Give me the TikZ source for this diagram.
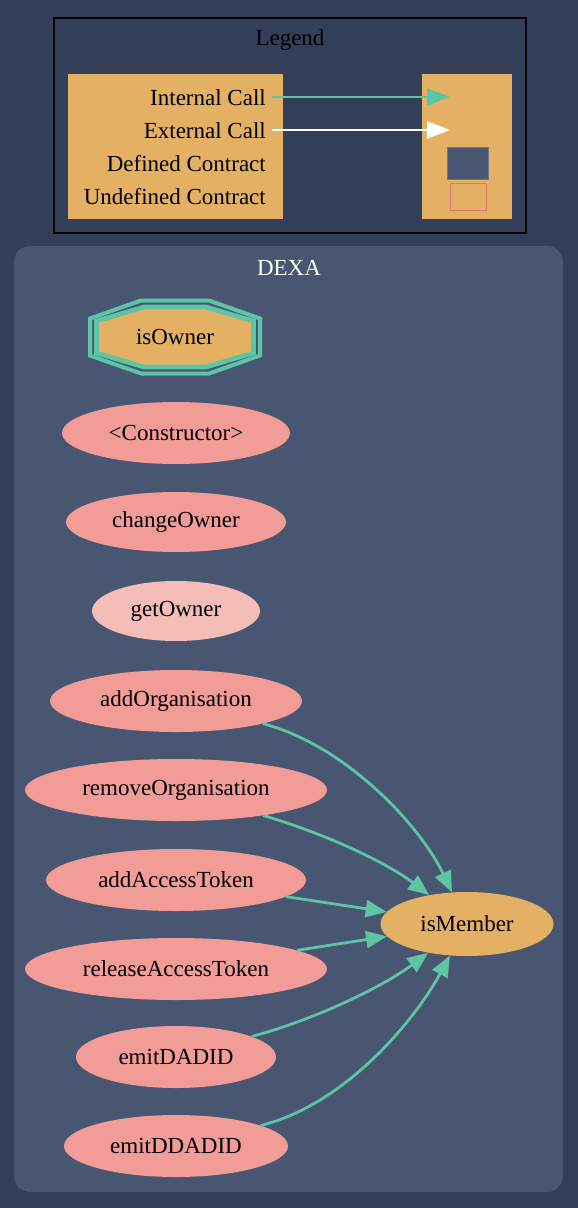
\documentclass[tikz,border=0pt]{standalone}
\usepackage{fontspec}
\setmainfont{Liberation Serif}
\usetikzlibrary{arrows.meta,shapes.geometric}
\definecolor{outerbg}{HTML}{333F58}
\definecolor{clusterbg}{HTML}{485672}
\definecolor{orng}{HTML}{E3B064}
\definecolor{pnk}{HTML}{F29C98}
\definecolor{lpnk}{HTML}{F5BDB8}
\definecolor{teal}{HTML}{5DC4A6}
\definecolor{redline}{HTML}{E07472}
\tikzset{
  fn/.style={ellipse, fill=pnk, inner sep=0pt, font=\fontsize{23}{27}\selectfont},
  edge/.style={draw=teal, line width=2.8pt, -{Triangle[length=21pt,width=17pt]}},
  lbl/.style={font=\fontsize{23}{27}\selectfont, inner sep=0pt}
}
\begin{document}
\begin{tikzpicture}[x=1pt,y=-1pt]
\fill[outerbg] (0,0) rectangle (578,1208);
\useasboundingbox (0,0) rectangle (578,1208);
% Legend
\draw[black, line width=1.5pt, fill=outerbg] (54,18) rectangle (526,233);
\node[lbl] (legendtitle) at (290,40) {Legend};
\fill[orng] (68,74) rectangle (283,219);
\fill[orng] (422,74) rectangle (512,219);
\node[lbl, anchor=east] (ic) at (266,98) {Internal Call};
\node[lbl, anchor=east] (ec) at (266,131) {External Call};
\node[lbl, anchor=east] (dc) at (266,164) {Defined Contract};
\node[lbl, anchor=east] (uc) at (266,197) {Undefined Contract};
\coordinate (ics) at (272,97);
\coordinate (ice) at (450,97);
\coordinate (ecs) at (272,130);
\coordinate (ece) at (450,130);
\draw[teal, line width=2.8pt, -{Triangle[length=23pt,width=17pt]}] (ics) -- (ice);
\draw[white, line width=2.8pt, -{Triangle[length=23pt,width=17pt]}] (ecs) -- (ece);
\draw[fill=clusterbg, draw=clusterbg!80!white, line width=0.8pt] (447,147) rectangle (488,179);
\draw[draw=redline, line width=1pt] (450,183) rectangle (486,210);
% Cluster
\fill[clusterbg, rounded corners=16pt] (14,246) rectangle (563,1192);
\node[lbl, text=white] (dexa) at (289,268) {DEXA};
% isOwner double octagon
\draw[teal, line width=4pt, line join=miter] (141,300.5) -- (209,300.5) -- (260,318.5) -- (260,355.5) -- (209,373.5) -- (141,373.5) -- (90,355.5) -- (90,318.5) -- cycle;
\draw[teal, line width=4.7pt, fill=orng, line join=miter] (144,307) -- (206,307) -- (253.5,321) -- (253.5,353) -- (206,367) -- (144,367) -- (96.5,353) -- (96.5,321) -- cycle;
\node[lbl] (isOwner) at (175,337) {isOwner};
% function nodes
\node[fn, minimum width=228pt, minimum height=62pt] (ctor) at (176,433) {<Constructor>};
\node[fn, minimum width=220pt, minimum height=60pt] (changeOwner) at (176,522) {changeOwner};
\node[fn, fill=lpnk, minimum width=168pt, minimum height=60pt] (getOwner) at (176,611) {getOwner};
\node[fn, minimum width=252pt, minimum height=62pt] (addOrganisation) at (176,701) {addOrganisation};
\node[fn, minimum width=302pt, minimum height=62pt] (removeOrganisation) at (176,790) {removeOrganisation};
\node[fn, minimum width=260pt, minimum height=62pt] (addAccessToken) at (176,880) {addAccessToken};
\node[fn, minimum width=302pt, minimum height=62pt] (releaseAccessToken) at (176,969) {releaseAccessToken};
\node[fn, minimum width=200pt, minimum height=62pt] (emitDADID) at (176,1057) {emitDADID};
\node[fn, minimum width=224pt, minimum height=62pt] (emitDDADID) at (176,1146) {emitDDADID};
\node[fn, fill=orng, minimum width=173pt, minimum height=64pt] (isMember) at (467,924) {isMember};
% edges
\draw[edge] (addOrganisation) .. controls (345,745) and (420,825) .. (isMember);
\draw[edge] (removeOrganisation) .. controls (330,835) and (390,865) .. (isMember);
\draw[edge] (addAccessToken) -- (isMember);
\draw[edge] (releaseAccessToken) -- (isMember);
\draw[edge] (emitDADID) .. controls (320,1018) and (385,985) .. (isMember);
\draw[edge] (emitDDADID) .. controls (345,1105) and (415,1020) .. (isMember);
\end{tikzpicture}
\end{document}
